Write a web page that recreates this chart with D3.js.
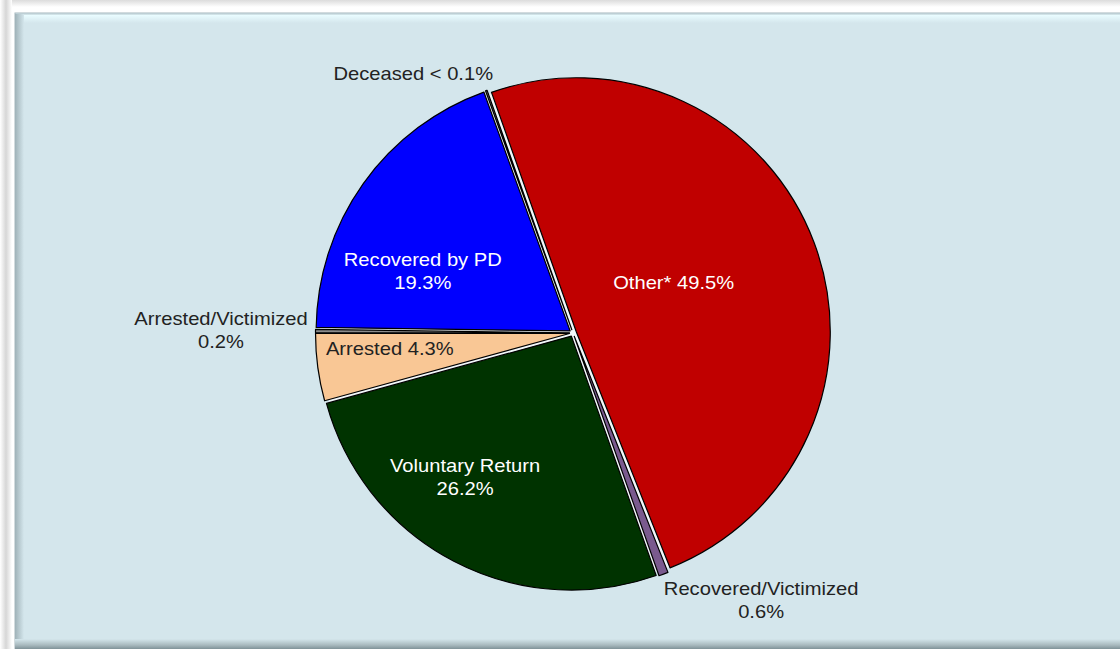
<!DOCTYPE html>
<html>
<head>
<meta charset="utf-8">
<script src="https://cdn.jsdelivr.net/npm/d3@7"></script>
<style>
  body { margin: 0; background: #fff; }
  svg { display: block; }
</style>
</head>
<body>
<div id="chart"></div>
<script>
// slices, clockwise from the start angle
const categories = ["Other*", "Recovered/Victimized", "Voluntary Return", "Arrested", "Arrested/Victimized", "Recovered by PD", "Deceased"];
const values = [49.5, 0.6, 26.2, 4.3, 0.2, 19.3, 0.1];
const valueLabels = ["49.5%", "0.6%", "26.2%", "4.3%", "0.2%", "19.3%", "< 0.1%"];
const sliceColors = ["#c00000", "#7a5a8e", "#003300", "#f9c795", "#8c8c8c", "#0000ff", "#8c8c8c"];

// label layout: [angle deg clockwise from top, distance from centre, two lines?, colour]
const labelPlace = [
  [64, 112, false, "#fff"],
  [145, 328, true, "#222"],
  [216.6, 181, true, "#fff"],
  [264.7, 184, false, "#222"],
  [270.3, 352, true, "#222"],
  [292, 162, true, "#fff"],
  [328.3, 304, false, "#222"]
];

const W = 1120, H = 649;
const cx = 573, cy = 333, R = 254;
const explode = 3.5;
const fontStack = "'Liberation Sans', Arial, sans-serif";

const svg = d3.select("#chart").append("svg")
  .attr("width", W).attr("height", H);

const defs = svg.append("defs");
function lin(id, x2, y2, stops) {
  const g = defs.append("linearGradient").attr("id", id)
    .attr("x1", 0).attr("y1", 0).attr("x2", x2).attr("y2", y2);
  stops.forEach(s => g.append("stop").attr("offset", s[0]).attr("stop-color", s[1]));
}
lin("shTop", 0, 1, [[0, "#dcdcdc"], [1, "#ffffff"]]);
lin("shLeft", 1, 0, [[0, "#ffffff"], [0.5, "#d6d6d6"], [1, "#ffffff"]]);
lin("bvTop", 0, 1, [[0, "#c3d3d8"], [0.15, "#e9fcff"], [1, "#d4e6ec"]]);
lin("bvLeft", 1, 0, [[0, "#9fb2b8"], [1, "#d4e6ec"]]);
lin("bvBottom", 0, 1, [[0, "#d4e6ec"], [0.6, "#a9babf"], [1, "#7f9298"]]);

// outer shadow
svg.append("rect").attr("x", 0).attr("y", 0).attr("width", W).attr("height", 7).attr("fill", "url(#shTop)");
svg.append("rect").attr("x", 0).attr("y", 0).attr("width", 12).attr("height", H).attr("fill", "url(#shLeft)");

// panel
const px = 15, py = 13;
svg.append("rect").attr("x", px).attr("y", py).attr("width", W - px + 5).attr("height", H - py)
  .attr("fill", "#d4e6ec").attr("stroke", "#a6b8be").attr("stroke-width", 1);
svg.append("rect").attr("x", px + 1).attr("y", py + 1).attr("width", W).attr("height", 9).attr("fill", "url(#bvTop)");
svg.append("rect").attr("x", px).attr("y", py + 1).attr("width", 9).attr("height", H - py - 1).attr("fill", "url(#bvLeft)");
svg.append("rect").attr("x", px).attr("y", H - 10).attr("width", W).attr("height", 10).attr("fill", "url(#bvBottom)");

// pie
const rows = categories.map((c, i) => ({ cat: c, value: values[i], label: valueLabels[i], color: sliceColors[i], place: labelPlace[i] }));
const startA = -19.5 * Math.PI / 180;
const pie = d3.pie().value(d => d.value).sort(null)
  .startAngle(startA).endAngle(startA + 2 * Math.PI);
const arc = d3.arc().innerRadius(0).outerRadius(R);
const arcs = pie(rows);

const g = svg.append("g").attr("transform", `translate(${cx},${cy})`);

// light band that shows in the gaps between exploded slices
g.append("circle").attr("r", R - 1).attr("fill", "#f2f8fa");

g.selectAll("path.slice")
  .data(arcs)
  .join("path")
  .attr("class", "slice")
  .attr("d", arc)
  .attr("fill", d => d.data.color)
  .attr("stroke", "#000")
  .attr("stroke-width", 1.2)
  .attr("stroke-linejoin", "round")
  .attr("transform", d => {
    const m = (d.startAngle + d.endAngle) / 2;
    return `translate(${explode * Math.sin(m)},${-explode * Math.cos(m)})`;
  });

// labels
const lineH = 23;
const labels = g.selectAll("text.lbl")
  .data(arcs)
  .join("text")
  .attr("class", "lbl")
  .attr("font-family", fontStack)
  .attr("font-size", 18)
  .attr("fill", d => d.data.place[3])
  .attr("text-anchor", "middle")
  .attr("transform", d => {
    const a = d.data.place[0] * Math.PI / 180, r = d.data.place[1];
    return `translate(${r * Math.sin(a)},${-r * Math.cos(a) - 1}) scale(1.12,1)`;
  });

labels.each(function(d) {
  const t = d3.select(this);
  if (d.data.place[2]) {
    t.append("tspan").attr("x", 0).attr("y", -lineH / 2 + 6.3).text(d.data.cat);
    t.append("tspan").attr("x", 0).attr("y", lineH / 2 + 6.3).text(d.data.label);
  } else {
    t.append("tspan").attr("x", 0).attr("y", 6.3).text(d.data.cat + " " + d.data.label);
  }
});
</script>
</body>
</html>
